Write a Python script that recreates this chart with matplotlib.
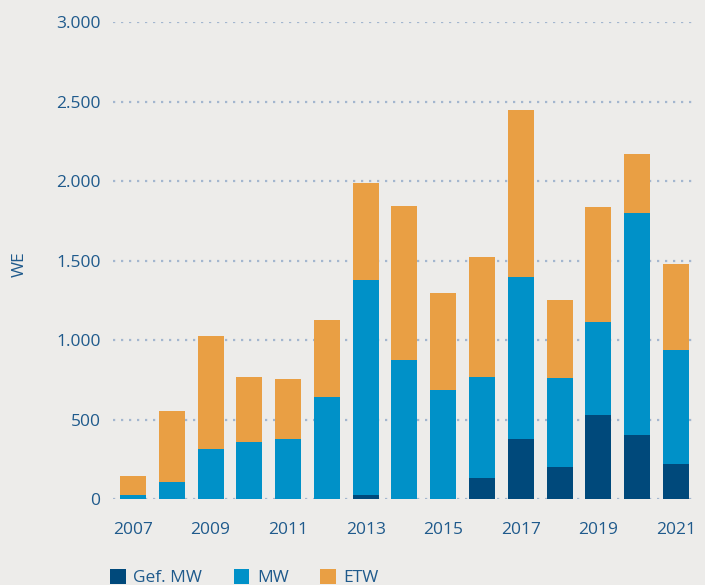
import matplotlib
matplotlib.use("Agg")
import matplotlib.pyplot as plt
from matplotlib.ticker import FuncFormatter

years = list(range(2007, 2022))
gef_mw = [0, 0, 0, 0, 0, 0, 31, 0, 0, 132, 383, 207, 534, 408, 220]
mw = [30, 107, 320, 364, 383, 646, 1350, 877, 690, 638, 1016, 557, 583, 1394, 722]
etw = [115, 452, 708, 406, 375, 483, 609, 968, 608, 755, 1049, 490, 722, 370, 539]
labels = ["Gef. MW", "MW", "ETW"]
colors = ["#00497b", "#0091c8", "#e99f44"]

bg = "#edecea"
txt = "#1f5a8c"

plt.rcParams['font.family'] = ['Open Sans', 'DejaVu Sans']

fig = plt.figure(figsize=(7.05, 5.85), dpi=100, facecolor=bg)
ax = fig.add_axes([0.1603, 0.1462, 0.8255, 0.8157], facecolor=bg)

bottom2 = [a + b for a, b in zip(gef_mw, mw)]
ax.bar(years, gef_mw, width=0.67, color=colors[0], label=labels[0], zorder=3)
ax.bar(years, mw, width=0.67, bottom=gef_mw, color=colors[1], label=labels[1], zorder=3)
ax.bar(years, etw, width=0.67, bottom=bottom2, color=colors[2], label=labels[2], zorder=3)

ax.set_xlim(2006.485, 2021.49)
ax.set_ylim(0, 3000)
ax.set_yticks(range(0, 3001, 500))
ax.set_xticks(range(2007, 2022, 2))
ax.yaxis.set_major_formatter(FuncFormatter(lambda v, p: f"{int(v):,}".replace(",", ".")))
ax.grid(axis="y", color="#a3b6cf", linestyle=(0, (1, 2.6)), linewidth=1.6, zorder=1)
ax.grid(axis="x", visible=False)
for s in ax.spines.values():
    s.set_visible(False)
ax.tick_params(axis="y", length=0, pad=9, labelsize=12.5, labelcolor=txt)
ax.tick_params(axis="x", length=0, pad=16, labelsize=12.5, labelcolor=txt)

fig.text(0.028, 0.548, "WE", rotation=90, ha="center", va="center", fontsize=12.5, color=txt)

fig.legend(loc="upper left", bbox_to_anchor=(0.156, 0.027), ncol=3, frameon=False,
           fontsize=12.5, labelcolor=txt, handlelength=0.9, handleheight=0.9,
           handletextpad=0.45, columnspacing=1.8, borderaxespad=0, borderpad=0)

fig.savefig("out.png", dpi=100, facecolor=bg)
